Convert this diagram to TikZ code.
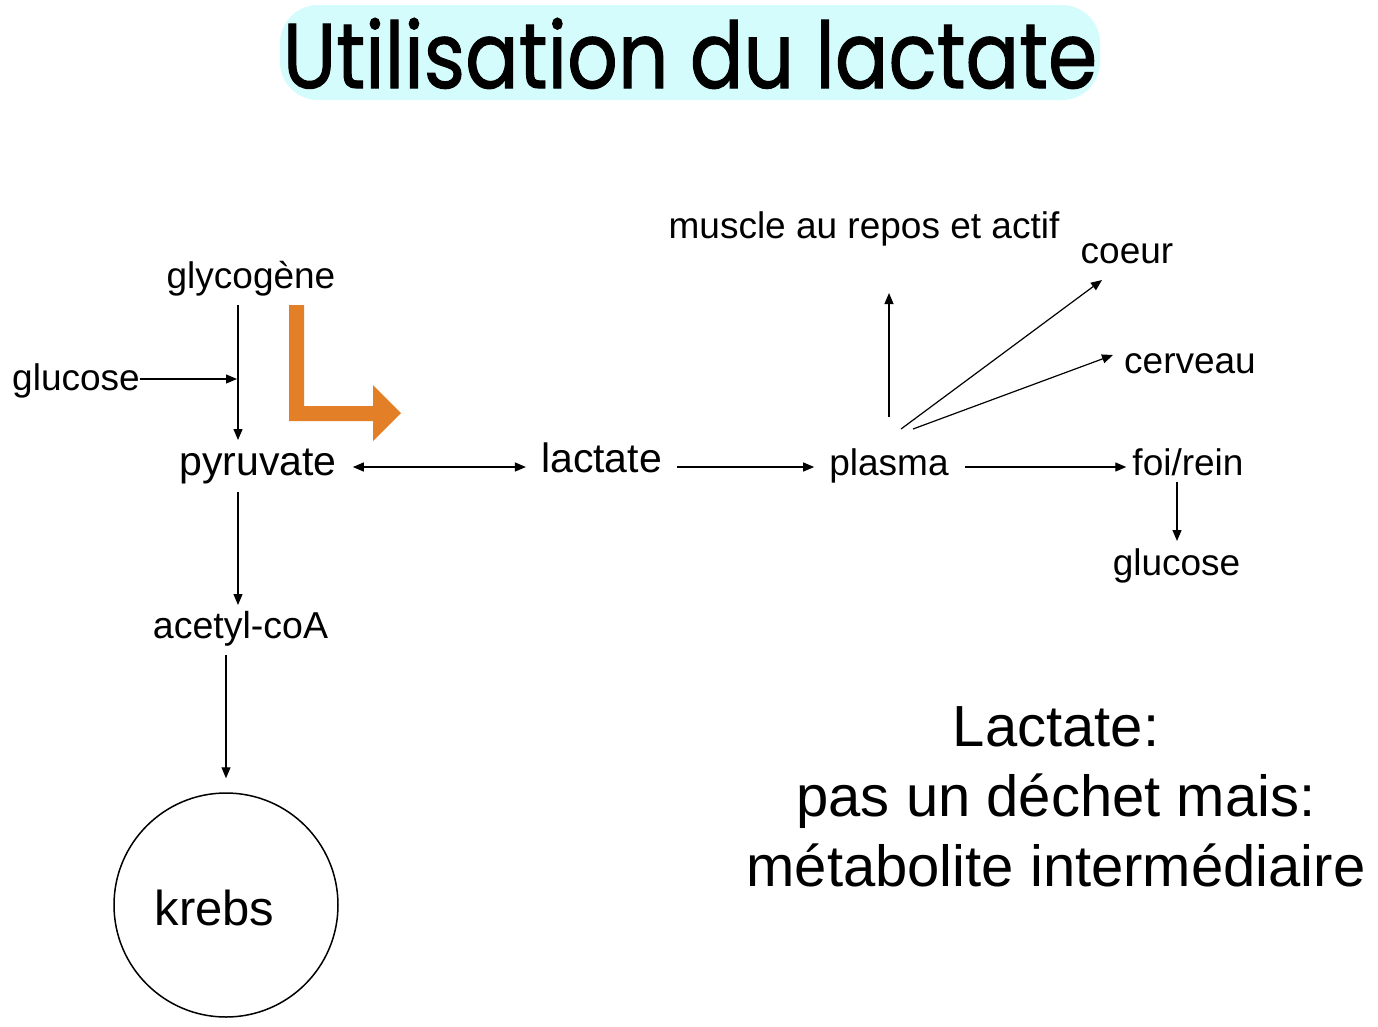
\documentclass[tikz,border=0pt]{standalone}
\usepackage{fontspec}
\setmainfont{Liberation Sans}
\newfontfamily\titlefont[FakeBold=1.2]{Poppins}
\usetikzlibrary{arrows.meta,calc}
\definecolor{titlebg}{HTML}{D5FCFC}
\definecolor{orangearr}{HTML}{E37F26}
\tikzset{
  lab/.style={inner sep=0pt, anchor=base, font=\fontsize{37}{44}\selectfont},
  labbig/.style={inner sep=0pt, anchor=base, font=\fontsize{41}{48}\selectfont},
  blk/.style={inner sep=0pt, anchor=base, font=\fontsize{58}{70}\selectfont},
  arr/.style={line width=1.2pt, -{Triangle[length=11pt,width=9pt]}},
  darr/.style={line width=1.2pt, {Triangle[length=11pt,width=9pt]}-{Triangle[length=11pt,width=9pt]}}
}
\begin{document}
\begin{tikzpicture}[x=1pt,y=-1pt]
\useasboundingbox (0,0) rectangle (1378,1026);
% title
\node[fill=titlebg, rounded corners=38pt, minimum width=820pt, minimum height=95pt, inner sep=0pt] (titlebox) at (690,52.5) {};
\node[inner sep=0pt, anchor=base] (title) at (690,88) {\resizebox{814pt}{70pt}{\titlefont Utilisation du lactate}};
% left pathway
\node[lab] (gly) at (251,288) {glycogène};
\node[lab] (gluL) at (76,390) {glucose};
\node[labbig] (pyr) at (258,475) {pyruvate};
\node[labbig] (lac) at (601.5,472) {lactate};
\node[lab] (pla) at (889,475) {plasma};
\node[lab] (foi) at (1188,475) {foi/rein};
\node[lab] (gluR) at (1176.5,575) {glucose};
\node[lab] (mus) at (864,238) {muscle au repos et actif};
\node[lab] (coe) at (1127,263) {coeur};
\node[lab] (cer) at (1190,373) {cerveau};
\node[lab, font=\fontsize{37.5}{44}\selectfont] (ace) at (240.5,638) {acetyl-coA};
\node[draw, circle, line width=1.5pt, minimum size=224pt, inner sep=0pt] (krebs) at (226,905) {};
\node[inner sep=0pt, anchor=base, font=\fontsize{49}{58}\selectfont] (krebstxt) at (214.5,925) {krebs};
% text block
\node[blk] (b1) at (1056,746) {Lactate:};
\node[blk] (b2) at (1056,816) {pas un déchet mais:};
\node[blk] (b3) at (1056,886) {métabolite intermédiaire};
% orange arrow
\fill[orangearr] (289,305) -- (304,305) -- (304,406) -- (373,406) -- (373,385) -- (401,413) -- (373,441) -- (373,421) -- (289,421) -- cycle;
% connectors
\coordinate (j) at (238,379);
\draw[arr] ([shift={(-13,17)}]gly.base) -- ([shift={(-20,-35)}]pyr.base);
\draw[arr] ([shift={(0,-11)}]gluL.base east) -- ([shift={(-1,0)}]j);
\draw[darr] ([shift={(16,-8)}]pyr.base east) -- ([shift={(-15,-5)}]lac.base west);
\draw[arr] ([shift={(15,-5)}]lac.base east) -- ([shift={(-15,-8)}]pla.base west);
\draw[arr] ([shift={(16,-8)}]pla.base east) -- ([shift={(-6,-8)}]foi.base west);
\draw[arr] ([shift={(-11,7)}]foi.base) -- ([shift={(0.5,-34)}]gluR.base);
\draw[arr] ([shift={(0,-58)}]pla.base) -- ([shift={(25,55)}]mus.base);
\draw[arr] ([shift={(12,-46)}]pla.base) -- ([shift={(-25,17)}]coe.base);
\draw[arr] ([shift={(24,-46)}]pla.base) -- ([shift={(-77,-18)}]cer.base);
\draw[arr] ([shift={(-20,17)}]pyr.base) -- ([shift={(-2.5,-33)}]ace.base);
\draw[arr] ([shift={(-14.5,17)}]ace.base) -- ([yshift=14pt]krebs.north);
\end{tikzpicture}
\end{document}
